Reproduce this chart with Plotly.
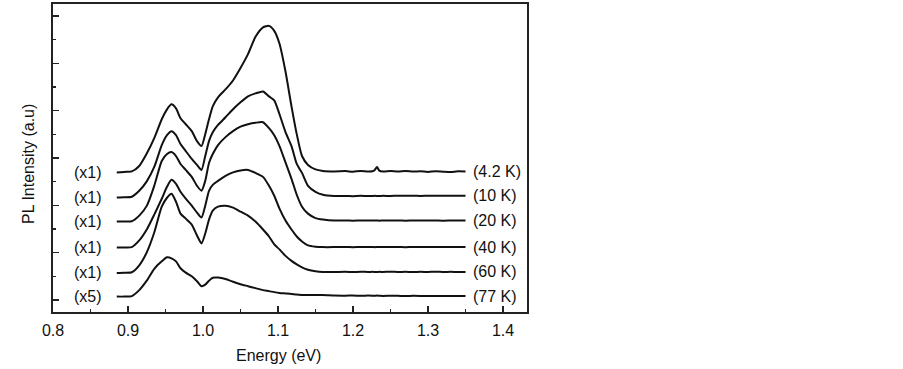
import plotly.graph_objects as go

# ---- data ----
energy = [0.885, 0.895, 0.905, 0.915, 0.925, 0.935, 0.945, 0.952, 0.958, 0.964,
          0.970, 0.977, 0.985, 0.992, 0.998, 1.003, 1.008, 1.013, 1.020, 1.030,
          1.040, 1.050, 1.060, 1.070, 1.080, 1.088, 1.095, 1.102, 1.110, 1.118,
          1.125, 1.132, 1.140, 1.150, 1.160, 1.175, 1.19, 1.20, 1.21, 1.22,
          1.226, 1.229, 1.232, 1.235, 1.24, 1.25, 1.26, 1.27, 1.28, 1.29,
          1.30, 1.31, 1.32, 1.33, 1.34, 1.35]

temps = ["(4.2 K)", "(10 K)", "(20 K)", "(40 K)", "(60 K)", "(77 K)"]
factors = ["(x1)", "(x1)", "(x1)", "(x1)", "(x1)", "(x5)"]

pl_4k2 = [128.5, 129, 129.5, 135, 147.5, 163, 182, 192, 197, 193,
          183, 177, 170, 160, 155, 167, 182, 195, 204, 212,
          221, 233.5, 247.5, 265, 274.5, 276, 271, 258, 230, 195,
          167, 145, 136, 131.5, 130, 129.5, 129.8, 129.2, 129.9, 129.4,
          129.6, 131, 134, 130.3, 129.3, 129.8, 129.3, 129.9, 129.4, 129.6,
          129.0, 129.7, 129.2, 128.8, 129.6, 129.3]
pl_10k = [103.3, 103.5, 104, 110, 119.5, 134, 156, 166, 170, 166,
          157, 150, 142, 136, 131, 145, 160, 169, 176.3, 184,
          192, 199, 205, 208, 210, 205, 201, 187, 169, 155,
          137, 128, 115, 109, 106, 104.7, 104.8, 104.6, 104.9, 104.7,
          104.8, 104.9, 104.8, 104.7, 104.9, 104.8, 105, 104.9, 105.1, 104.8,
          105, 104.9, 105.1, 104.9, 105, 105]
pl_20k = [79, 79, 79.3, 85, 94.8, 115, 140, 147, 149, 145,
          137, 131, 124, 115, 110, 120, 138, 147, 156, 164,
          170, 174.5, 177, 178.5, 179, 173, 166, 155, 138.6, 122,
          106, 94, 87, 82.5, 81, 80, 80.2, 79.9, 80.1, 80,
          80.2, 80, 80.1, 79.9, 80.1, 80, 80.2, 79.9, 80.1, 80,
          80.2, 80.1, 79.9, 80, 80.1, 80]
pl_40k = [53, 53, 53.3, 60, 71, 86, 102, 114, 121, 117,
          109, 102, 95, 88, 83, 95, 110, 116, 120, 125,
          128.5, 130.5, 131, 128, 124, 115, 105, 92, 80, 71,
          64, 59, 55, 53.7, 53.3, 53.3, 53.4, 53.2, 53.5, 53.3,
          53.4, 53.2, 53.4, 53.3, 53.5, 53.3, 53.4, 53.2, 53.5, 53.4,
          53.3, 53.5, 53.4, 53.3, 53.4, 53.3]
pl_60k = [27.3, 27.5, 28, 35, 48, 68, 94, 103, 107, 99,
          87, 82, 76, 65, 57, 67, 81, 90, 94, 95,
          93, 89, 85, 79, 71, 64, 56, 51, 44.5, 39.5,
          36, 33, 30.5, 29, 28.3, 28.3, 28.4, 28.2, 28.5, 28.3,
          28.4, 28.3, 28.2, 28.4, 28.3, 28.5, 28.3, 28.4, 28.2, 28.4,
          28.3, 28.5, 28.3, 28.4, 28.3, 28.3]
pl_77k = [3.5, 3.5, 4, 10, 19.5, 31.5, 39, 43, 42, 39,
          32, 27.6, 24, 19, 14, 15.5, 19.5, 22.5, 22.7, 21.2,
          18.5, 16, 14, 12, 10, 9, 8, 7.2, 6.7, 6.2,
          5.5, 5.2, 5, 5, 5, 4.5, 4.4, 4.6, 4.3, 4.5,
          4.4, 4.3, 4.5, 4.4, 4.2, 4.4, 4.3, 4.1, 4.3, 4.2,
          4.0, 4.2, 4.1, 4.0, 4.1, 4.0]

series = [pl_4k2, pl_10k, pl_20k, pl_40k, pl_60k, pl_77k]

x_ticks = [0.8, 0.9, 1.0, 1.1, 1.2, 1.3, 1.4]
x_ticklabels = ["0.8", "0.9", "1.0", "1.1", "1.2", "1.3", "1.4"]

# ---- figure ----
FONT = "Liberation Sans, Arial, sans-serif"
fig = go.Figure()
for name, ys in zip(temps, series):
    fig.add_trace(go.Scatter(x=energy, y=ys, mode="lines", name=name,
                             line=dict(color="#111111", width=2, shape="spline", smoothing=0.6),
                             showlegend=False, hoverinfo="skip"))

annotations = []
for name, fac, ys in zip(temps, factors, series):
    annotations.append(dict(x=energy[-1] + 0.007, y=ys[-1], xref="x", yref="y", text=name,
                            showarrow=False, xanchor="left", yanchor="middle",
                            font=dict(family=FONT, size=16, color="#111111")))
    annotations.append(dict(x=energy[0] - 0.017, y=ys[0], xref="x", yref="y", text=fac,
                            showarrow=False, xanchor="right", yanchor="middle",
                            font=dict(family=FONT, size=16, color="#111111")))

annotations.append(dict(x=1.1, y=-0.14, xref="x", yref="paper", text="Energy (eV)",
                        showarrow=False, xanchor="center", yanchor="middle",
                        font=dict(family=FONT, size=16, color="#111111")))
annotations.append(dict(x=-0.053, y=0.48, xref="paper", yref="paper", text="PL Intensity (a.u)",
                        textangle=-90, showarrow=False, xanchor="center", yanchor="middle",
                        font=dict(family=FONT, size=16, color="#111111")))

fig.update_layout(
    width=903, height=369,
    margin=dict(l=53, r=376, t=2, b=57),
    paper_bgcolor="white", plot_bgcolor="white",
    font=dict(family=FONT, size=16, color="#111111"),
    annotations=annotations,
    xaxis=dict(range=[0.8, 1.432], tickvals=x_ticks, ticktext=x_ticklabels,
               ticks="inside", ticklen=6, tickwidth=1.5, tickcolor="#222222",
               showline=True, linecolor="#222222", linewidth=2, mirror=True,
               showgrid=False, zeroline=False, ticklabelstandoff=3,
               minor=dict(dtick=0.05, tick0=0.8, ticks="inside", ticklen=3,
                          tickwidth=1.5, tickcolor="#222222", showgrid=False)),
    yaxis=dict(range=[-12, 298], tick0=0, dtick=47.67, showticklabels=False,
               ticks="inside", ticklen=6, tickwidth=1.5, tickcolor="#222222",
               showline=True, linecolor="#222222", linewidth=2, mirror=True,
               showgrid=False, zeroline=False,
               minor=dict(dtick=23.835, tick0=0, ticks="inside", ticklen=3,
                          tickwidth=1.5, tickcolor="#222222", showgrid=False)),
)

fig.write_html("out.html",
               config={"displayModeBar": False, "staticPlot": True},
               post_script="document.body.style.margin='0';document.body.style.overflow='hidden';")
